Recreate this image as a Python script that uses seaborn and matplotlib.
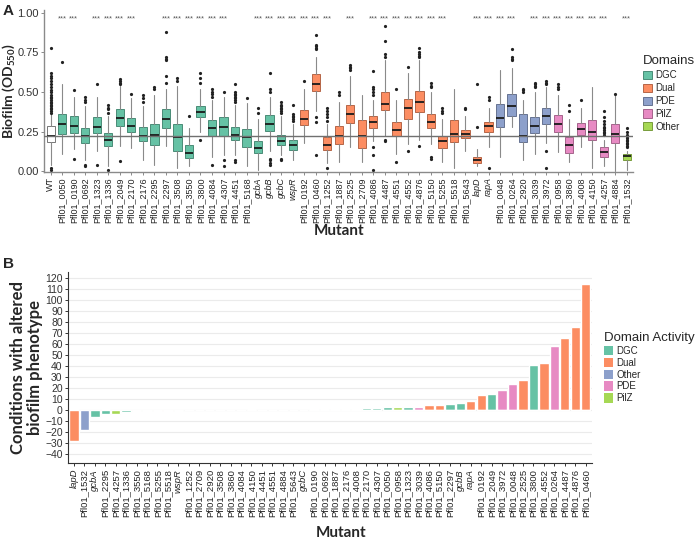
import numpy as np
import pandas as pd
import matplotlib
matplotlib.use("Agg")
import matplotlib.pyplot as plt
from matplotlib.patches import Patch
from matplotlib.colors import to_rgb
import seaborn as sns

# ---------------- Panel A data (box statistics) ----------------
mutants_a = ["WT", "Pfl01_0050", "Pfl01_0190", "Pfl01_0692", "Pfl01_1323", "Pfl01_1336",
             "Pfl01_2049", "Pfl01_2170", "Pfl01_2176", "Pfl01_2295", "Pfl01_2297", "Pfl01_3508",
             "Pfl01_3550", "Pfl01_3800", "Pfl01_4084", "Pfl01_4307", "Pfl01_4451", "Pfl01_5168",
             "gcbA", "gcbB", "gcbC", "wspR",
             "Pfl01_0192", "Pfl01_0460", "Pfl01_1252", "Pfl01_1887", "Pfl01_2525", "Pfl01_2709",
             "Pfl01_4086", "Pfl01_4487", "Pfl01_4551", "Pfl01_4552", "Pfl01_4876", "Pfl01_5150",
             "Pfl01_5255", "Pfl01_5518", "Pfl01_5643", "lapD", "rapA",
             "Pfl01_0048", "Pfl01_0264", "Pfl01_2920", "Pfl01_3039", "Pfl01_3972",
             "Pfl01_0958", "Pfl01_3860", "Pfl01_4008", "Pfl01_4150", "Pfl01_4257", "Pfl01_4884",
             "Pfl01_1532"]
domains_a = (["WT"] + ["DGC"] * 21 + ["Dual"] * 17 + ["PDE"] * 5 + ["PilZ"] * 6 + ["Other"])

whislo = [0.04, 0.11, 0.14, 0.07, 0.126, 0.03, 0.157, 0.147, 0.07, 0.04, 0.157, 0.02,
          0.03, 0.25, 0.09, 0.10, 0.10, 0.03, 0.01, 0.13, 0.10, 0.07,
          0.18, 0.38, 0.05, 0.06, 0.15, 0.06, 0.19, 0.22, 0.11, 0.17, 0.20, 0.17,
          0.06, 0.02, 0.13, 0.03, 0.15,
          0.09, 0.28, 0.07, 0.11, 0.18,
          0.12, 0.06, 0.15, 0.02, 0.03, 0.00,
          0.01]
q1 = [0.182, 0.235, 0.241, 0.178, 0.241, 0.157, 0.283, 0.245, 0.189, 0.168, 0.273, 0.126,
      0.084, 0.342, 0.22, 0.224, 0.20, 0.153, 0.115, 0.256, 0.168, 0.136,
      0.289, 0.509, 0.136, 0.174, 0.304, 0.147, 0.273, 0.388, 0.224, 0.329, 0.373, 0.273,
      0.147, 0.184, 0.21, 0.052, 0.25,
      0.279, 0.352, 0.184, 0.241, 0.30,
      0.247, 0.115, 0.231, 0.195, 0.09, 0.178,
      0.073]
med = [0.225, 0.296, 0.283, 0.222, 0.28, 0.20, 0.335, 0.285, 0.222, 0.232, 0.327, 0.215,
       0.118, 0.377, 0.27, 0.279, 0.228, 0.216, 0.147, 0.30, 0.19, 0.164,
       0.33, 0.553, 0.168, 0.224, 0.363, 0.22, 0.308, 0.423, 0.262, 0.398, 0.44, 0.31,
       0.189, 0.237, 0.237, 0.073, 0.287,
       0.335, 0.409, 0.22, 0.287, 0.35,
       0.30, 0.168, 0.268, 0.247, 0.122, 0.237,
       0.094]
q3 = [0.285, 0.363, 0.346, 0.273, 0.342, 0.241, 0.392, 0.335, 0.279, 0.30, 0.392, 0.30,
      0.164, 0.413, 0.325, 0.342, 0.279, 0.266, 0.189, 0.356, 0.226, 0.195,
      0.388, 0.614, 0.214, 0.283, 0.419, 0.325, 0.346, 0.499, 0.314, 0.455, 0.509, 0.36,
      0.224, 0.325, 0.262, 0.09, 0.314,
      0.426, 0.488, 0.363, 0.342, 0.398,
      0.356, 0.216, 0.304, 0.325, 0.151, 0.30,
      0.111]
whishi = [0.36, 0.55, 0.47, 0.41, 0.47, 0.35, 0.54, 0.46, 0.41, 0.48, 0.52, 0.54,
          0.27, 0.52, 0.45, 0.47, 0.42, 0.43, 0.33, 0.47, 0.35, 0.30,
          0.52, 0.72, 0.30, 0.44, 0.60, 0.48, 0.45, 0.70, 0.45, 0.62, 0.70, 0.50,
          0.33, 0.52, 0.35, 0.14, 0.40,
          0.64, 0.65, 0.45, 0.50, 0.53,
          0.48, 0.33, 0.40, 0.53, 0.20, 0.48,
          0.13]
fliers = [
    [0.01, 0.02, 0.37, 0.38, 0.39, 0.40, 0.41, 0.42, 0.43, 0.44, 0.45, 0.46, 0.47, 0.48,
     0.50, 0.51, 0.53, 0.55, 0.57, 0.59, 0.60, 0.62, 0.78],
    [0.69], [0.08, 0.51], [0.03, 0.04, 0.44, 0.45, 0.47], [0.04, 0.55],
    [0.01, 0.37, 0.39, 0.40, 0.42], [0.063, 0.55, 0.56, 0.57, 0.58], [0.49],
    [0.44, 0.46, 0.48], [0.52, 0.53], [0.56, 0.60, 0.70, 0.71, 0.72, 0.88], [0.57, 0.59],
    [0.35], [0.20, 0.56, 0.59, 0.62], [0.04, 0.47, 0.49, 0.50, 0.52], [0.03, 0.07, 0.50],
    [0.06, 0.07, 0.44, 0.45, 0.46, 0.47, 0.48, 0.49, 0.50, 0.55], [0.46],
    [0.37, 0.40], [0.04, 0.05, 0.07, 0.08, 0.50, 0.52, 0.62],
    [0.07, 0.08, 0.37, 0.38, 0.39, 0.40, 0.41, 0.42, 0.44],
    [0.32, 0.33, 0.34, 0.35, 0.36, 0.42],
    [0.57], [0.105, 0.31, 0.34, 0.77, 0.78, 0.79, 0.80, 0.86],
    [0.02, 0.32, 0.34, 0.36, 0.38, 0.40], [0.48, 0.50], [0.64, 0.65, 0.66, 0.67], [],
    [0.01, 0.10, 0.15, 0.48, 0.50, 0.52, 0.53, 0.63], [0.19, 0.20, 0.72, 0.74, 0.82, 0.92],
    [0.06, 0.52], [0.13, 0.66], [0.16, 0.72, 0.73, 0.74, 0.75, 0.78], [0.08, 0.09, 0.53, 0.54, 0.56],
    [0.37, 0.38, 0.40], [], [0.39, 0.40], [0.28, 0.55], [0.02, 0.45, 0.47],
    [], [0.70, 0.71, 0.72, 0.77], [0.50, 0.51, 0.52], [0.53, 0.54, 0.55, 0.56],
    [0.02, 0.13, 0.55, 0.56, 0.57],
    [0.52, 0.53, 0.55], [0.38, 0.42], [0.45], [],
    [0.23, 0.24, 0.25, 0.26, 0.27, 0.28, 0.30, 0.32, 0.34, 0.38], [0.49],
    [0.15, 0.16, 0.17, 0.18, 0.19, 0.20, 0.21, 0.22, 0.23, 0.25, 0.27],
]
sig_idx = [1, 2, 4, 5, 6, 7, 10, 11, 12, 13, 14, 15, 18, 19, 20, 21, 22, 23, 24, 26, 28,
           29, 30, 31, 32, 33, 34, 37, 38, 39, 40, 42, 43, 44, 45, 46, 47, 48, 50]

# ---------------- Panel B data ----------------
mutants_b = ["lapD", "Pfl01_1532", "gcbA", "Pfl01_2295", "Pfl01_4257", "Pfl01_1336",
             "Pfl01_3550", "Pfl01_5168", "Pfl01_5255", "Pfl01_5518", "wspR", "Pfl01_1252",
             "Pfl01_2709", "Pfl01_2920", "Pfl01_3508", "Pfl01_3860", "Pfl01_4084", "Pfl01_4150",
             "Pfl01_4451", "Pfl01_4551", "Pfl01_4884", "Pfl01_5643", "gcbC", "Pfl01_0190",
             "Pfl01_0692", "Pfl01_1887", "Pfl01_2176", "Pfl01_4008", "Pfl01_2170", "Pfl01_4307",
             "Pfl01_0050", "Pfl01_0958", "Pfl01_1323", "Pfl01_3039", "Pfl01_4086", "Pfl01_5150",
             "Pfl01_2297", "gcbB", "rapA", "Pfl01_0192", "Pfl01_2049", "Pfl01_3972",
             "Pfl01_0048", "Pfl01_2525", "Pfl01_3800", "Pfl01_4552", "Pfl01_0264",
             "Pfl01_4487", "Pfl01_4876", "Pfl01_0460"]
increased = [1, 0, 0, 1, 0, 0, 0, 0, 0, 0, 0, 0, 0, 0, 0, 0, 0, 1, 0, 0, 0, 0, 0,
             1, 1, 1, 1, 1, 2, 2, 3, 3, 3, 3, 5, 5, 6, 7, 8, 14, 15, 18, 24, 27, 41, 43,
             58, 65, 75, 114]
decreased = [28, 18, 6, 3, 3, 2, 1, 1, 1, 1, 1] + [0] * 39

pal_a = {"DGC": "#66C2A5", "Dual": "#FC8D62", "PDE": "#8DA0CB", "PilZ": "#E78AC3",
         "Other": "#A6D854", "WT": "#FFFFFF"}
pal_b = {"DGC": "#66C2A5", "Dual": "#FC8D62", "Other": "#8DA0CB", "PDE": "#E78AC3",
         "PilZ": "#A6D854"}
italic_names = {"gcbA", "gcbB", "gcbC", "wspR", "lapD", "rapA"}


def darker(c, f=0.72):
    r, g, b = to_rgb(c)
    return (r * f, g * f, b * f)


sns.set_theme(style="ticks")
plt.rcParams["font.family"] = ["Liberation Sans", "DejaVu Sans"]
plt.rcParams["mathtext.fontset"] = "custom"
plt.rcParams["mathtext.rm"] = "Lato:bold"
plt.rcParams["mathtext.default"] = "rm"

fig = plt.figure(figsize=(6.96, 5.4), dpi=100)
ax_a = fig.add_axes([0.0637, 0.682, 0.846, 0.300])
ax_b = fig.add_axes([0.098, 0.142, 0.752, 0.354])

# ---------------- Panel A ----------------
stats = []
for i, m in enumerate(mutants_a):
    stats.append(dict(label=m, q1=q1[i], med=med[i], q3=q3[i],
                      whislo=whislo[i], whishi=whishi[i], fliers=fliers[i]))
bp = ax_a.bxp(stats, positions=np.arange(len(mutants_a)), widths=0.72, patch_artist=True,
              showcaps=False,
              flierprops=dict(marker="o", markersize=2.3, markerfacecolor="#222222",
                              markeredgecolor="none"),
              medianprops=dict(color="#1a1a1a", lw=1.3),
              whiskerprops=dict(color="#8a8a8a", lw=0.8))
for box, d in zip(bp["boxes"], domains_a):
    box.set_facecolor(pal_a[d])
    box.set_edgecolor("#777777" if d == "WT" else darker(pal_a[d]))
    box.set_linewidth(0.7)

ax_a.axhline(med[0], color="#707070", lw=1.0, zorder=5)
for i in sig_idx:
    ax_a.text(i, 0.962, "***", ha="center", va="center", fontsize=5.3, color="#555555")

ax_a.set_xlim(-0.55, len(mutants_a) - 0.45)
ax_a.set_ylim(-0.003, 1.02)
ax_a.set_yticks([0, 0.25, 0.5, 0.75, 1.0])
ax_a.set_yticklabels(["0.00", "0.25", "0.50", "0.75", "1.00"], fontsize=8, color="#333333")
ax_a.set_xticks(np.arange(len(mutants_a)))
ax_a.set_xticklabels(mutants_a, rotation=90, fontsize=6.5, color="#222222")
for t in ax_a.get_xticklabels():
    if t.get_text() in italic_names:
        t.set_style("italic")
for s in ["top", "right"]:
    ax_a.spines[s].set_visible(False)
for s in ["left", "bottom"]:
    ax_a.spines[s].set_color("#8a8a8a")
    ax_a.spines[s].set_linewidth(1.0)
ax_a.tick_params(length=2.5, width=0.7, color="#8a8a8a", pad=1.5)
ax_a.set_ylabel("Biofilm (OD$_{550}$)", fontsize=10, fontweight="bold", family="Lato")
ax_a.yaxis.set_label_coords(-0.046, 0.5)
ax_a.set_xlabel("Mutant", fontsize=11, fontweight="bold", family="Lato", labelpad=1)

handles_a = [Patch(facecolor=pal_a[d], edgecolor=darker(pal_a[d]), lw=0.7, label=d)
             for d in ["DGC", "Dual", "PDE", "PilZ", "Other"]]
leg_a = fig.legend(handles=handles_a, title="Domains", loc="upper left",
                   bbox_to_anchor=(0.918, 0.905), frameon=False, fontsize=7,
                   title_fontsize=9.5, handlelength=0.9, handleheight=0.9,
                   labelspacing=0.3, handletextpad=0.4, borderaxespad=0)
leg_a._legend_box.align = "left"

# ---------------- Panel B ----------------
dom_lookup = dict(zip(mutants_a, domains_a))
df_b = pd.DataFrame({"mutant": mutants_b, "inc": increased,
                     "dec": [-v for v in decreased]})
df_b["domain"] = [dom_lookup[m] for m in mutants_b]
ax_b.yaxis.grid(True, color="#ebebeb", lw=0.8)
ax_b.set_axisbelow(True)
for col in ["inc", "dec"]:
    sns.barplot(data=df_b, x="mutant", y=col, hue="domain", order=mutants_b,
                hue_order=list(pal_b), palette=pal_b, dodge=False, width=0.9,
                saturation=1, errorbar=None, legend=False, ax=ax_b)

ax_b.set_xlim(-0.55, len(mutants_b) - 0.43)
ax_b.set_ylim(-48, 125)
ax_b.set_yticks(range(-40, 121, 10))
ax_b.tick_params(axis="y", labelsize=7.5, labelcolor="#333333", length=2.5, width=0.7,
                 color="#333333", pad=1.5)
ax_b.tick_params(axis="x", labelsize=6.8, labelcolor="#222222", length=2.5, width=0.7,
                 color="#333333", pad=1.5)
ax_b.set_xticks(np.arange(len(mutants_b)))
ax_b.set_xticklabels(mutants_b, rotation=90)
for t in ax_b.get_xticklabels():
    if t.get_text() in italic_names:
        t.set_style("italic")
for s in ["top", "right"]:
    ax_b.spines[s].set_visible(False)
for s in ["left", "bottom"]:
    ax_b.spines[s].set_color("#333333")
    ax_b.spines[s].set_linewidth(0.8)
ax_b.set_ylabel("Conditions with altered\nbiofilm phenotype", fontsize=12,
                fontweight="bold", family="Lato", linespacing=1.05)
ax_b.yaxis.set_label_coords(-0.048, 0.5)
ax_b.set_xlabel("Mutant", fontsize=11, fontweight="bold", family="Lato")
ax_b.xaxis.set_label_coords(0.522, -0.33)

handles_b = [Patch(facecolor=c, edgecolor="none", label=d) for d, c in pal_b.items()]
leg_b = fig.legend(handles=handles_b, title="Domain Activity", loc="upper left",
                   bbox_to_anchor=(0.862, 0.393), frameon=False, fontsize=7,
                   title_fontsize=9.5, handlelength=0.9, handleheight=1.1,
                   labelspacing=0.2, handletextpad=0.4, borderaxespad=0)
leg_b._legend_box.align = "left"

fig.text(0.004, 0.992, "A", fontsize=11, fontweight="bold", va="top")
fig.text(0.004, 0.525, "B", fontsize=11, fontweight="bold", va="top")

fig.savefig("out.png", dpi=100)
